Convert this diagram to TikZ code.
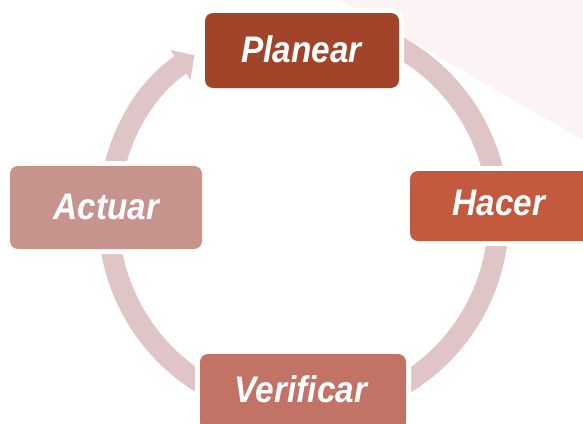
\documentclass[tikz,border=0pt]{standalone}
\usepackage{fontspec}
\newfontfamily\labfont[FakeStretch=0.9]{Liberation Sans}
\usetikzlibrary{arrows.meta}
\definecolor{cPlan}{HTML}{A14429}
\definecolor{cHac}{HTML}{C35A3E}
\definecolor{cVer}{HTML}{C27366}
\definecolor{cAct}{HTML}{C6938D}
\definecolor{cRing}{HTML}{DFC5C5}
\definecolor{cBg}{HTML}{FCF4F4}
\tikzset{
  box/.style={rounded corners=8pt, inner sep=0pt, outer sep=0pt,
    preaction={draw=white, line width=10pt}},
  lab/.style={text=white, inner sep=0pt, anchor=base,
    font=\labfont\fontsize{37}{40}\selectfont\bfseries\itshape},
  ring/.style={draw=cRing, line width=21pt},
}
\begin{document}
\begin{tikzpicture}[x=1pt,y=1pt]
\useasboundingbox (0,0) rectangle (583,-423);
\fill[white] (0,0) rectangle (583,-423);
\fill[cBg] (340,0) -- (583,0) -- (583,-140) -- cycle;
\coordinate (c) at (303.5,-217);
% ring arcs
\draw[ring, -{Triangle[length=17pt,width=35pt]}] ([shift={(190:195)}]c) arc[start angle=190, end angle=124, radius=195];
\draw[ring] ([shift={(95:195)}]c) arc[start angle=95, end angle=0, radius=195];
\draw[ring] ([shift={(5:195)}]c) arc[start angle=5, end angle=-90, radius=195];
\draw[ring] ([shift={(-85:195)}]c) arc[start angle=-85, end angle=-180, radius=195];
% boxes
\path[box, fill=cPlan] (205,-13) rectangle (399,-88) node[pos=0.5] (planbox) {};
\path[box, fill=cHac] (410,-171) rectangle (602,-241) node[pos=0.5] (hacbox) {};
\path[box, fill=cAct] (10,-166) rectangle (202,-249) node[pos=0.5] (actbox) {};
\path[box, fill=cVer] (200,-354) rectangle (406,-430) node[pos=0.5] (verbox) {};
% labels
\node[lab] (plan) at (301.5,-62) {Planear};
\node[lab] (hac) at (499,-215) {Hacer};
\node[lab] (act) at (106.5,-219) {Actuar};
\node[lab] (ver) at (301,-402) {Verificar};
\end{tikzpicture}
\end{document}
